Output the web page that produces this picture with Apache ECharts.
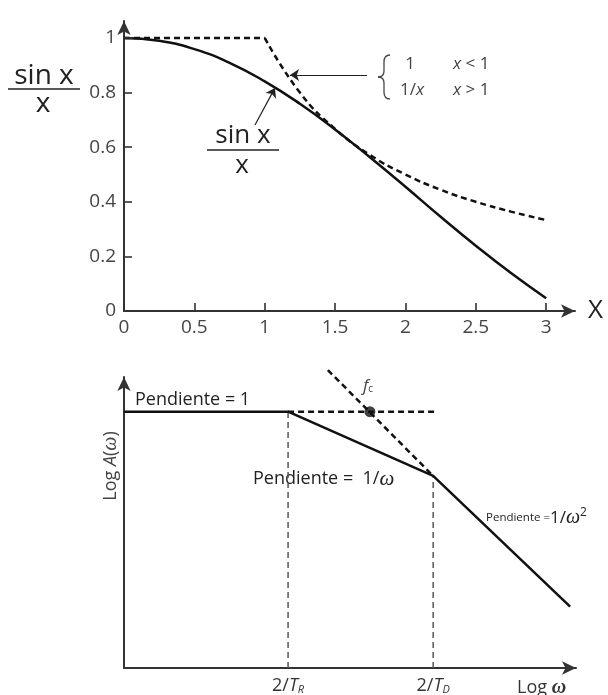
<!DOCTYPE html>
<html>
<head>
<meta charset="utf-8">
<script src="https://cdn.jsdelivr.net/npm/echarts@6/dist/echarts.min.js"></script>
<style>
  html, body { margin: 0; padding: 0; background: #fff; }
  #chart { width: 608px; height: 695px; }
</style>
</head>
<body>
<div id="chart"></div>
<script>
// top panel: sin x / x and its asymptote
var sincX = [0, 0.25, 0.5, 0.75, 1, 1.25, 1.5, 1.75, 2, 2.25, 2.5, 2.75, 3];
var sincY = [1.000, 0.990, 0.959, 0.909, 0.841, 0.759, 0.665, 0.562, 0.455, 0.345, 0.239, 0.139, 0.047];
var flatX = [0, 1];
var flatY = [1, 1];
var invX = [1, 1.25, 1.5, 1.75, 2, 2.25, 2.5, 2.75, 3];
var invY = [1, 0.800, 0.667, 0.571, 0.500, 0.444, 0.400, 0.364, 0.333];
var topXTicks = [0, 0.5, 1, 1.5, 2, 2.5, 3];
var topYTicks = [0, 0.2, 0.4, 0.6, 0.8, 1];

// bottom panel: log-log asymptotes (arbitrary units)
var asymX = [0, 3.63, 6.84, 9.87];
var asymY = [8.81, 8.81, 6.6, 2.11];
var levelX = [3.63, 6.92];
var levelY = [8.81, 8.81];
var cutX = [4.51, 6.84];
var cutY = [10.24, 6.6];
var fcPoint = [5.44, 8.81];
var breakX = [3.63, 6.84];
var breakY = [8.81, 6.6];
var breakLabels = ['2/{i|T}{s|R}', '2/{i|T}{s|D}'];

function zip(xs, ys) {
    return xs.map(function (x, i) { return [x, ys[i]]; });
}

var dom = document.getElementById('chart');
var myChart = echarts.init(dom);

var axisColor = '#333';
var font = 'Open Sans';
var serif = 'Liberation Serif';
var arrow = { show: true, symbol: ['none', 'arrow'], symbolSize: [10, 14], lineStyle: { color: axisColor, width: 2 } };

// top grid: x 0..3.205 over 451px, y 0..1.062 over 290px -> 8px inward ticks
var tickDX = 8 * 3.205 / 451;
var tickDY = 8 * 1.062 / 290;
var tickLines = []
    .concat(topXTicks.slice(1).map(function (v) { return [{ coord: [v, 0] }, { coord: [v, tickDY] }]; }))
    .concat(topYTicks.slice(1).map(function (v) { return [{ coord: [0, v] }, { coord: [tickDX, v] }]; }));

var series = [
    {
        type: 'line', xAxisIndex: 0, yAxisIndex: 0,
        data: zip(sincX, sincY), smooth: true, showSymbol: false,
        lineStyle: { color: '#111', width: 2.5 },
        markLine: {
            silent: true, symbol: ['none', 'arrow'], symbolSize: 9,
            label: { show: false },
            lineStyle: { color: '#222', width: 1.2, type: 'solid' },
            data: [
                [{ coord: [0.931, 0.681] }, { coord: [1.073, 0.817] }],
                [{ coord: [1.727, 0.864] }, { coord: [1.18, 0.864] }]
            ]
        }
    },
    {
        type: 'line', xAxisIndex: 0, yAxisIndex: 0,
        data: zip(flatX, flatY), showSymbol: false,
        lineStyle: { color: '#111', width: 2.5, type: [6, 4] },
        markLine: {
            silent: true, symbol: ['none', 'none'],
            label: { show: false },
            lineStyle: { color: axisColor, width: 1.6, type: 'solid' },
            data: tickLines
        }
    },
    {
        type: 'line', xAxisIndex: 0, yAxisIndex: 0,
        data: zip(invX, invY), smooth: true, showSymbol: false,
        lineStyle: { color: '#111', width: 2.5, type: [6, 4] }
    },
    {
        type: 'line', xAxisIndex: 1, yAxisIndex: 1,
        data: zip(asymX, asymY), showSymbol: false,
        lineStyle: { color: '#111', width: 2.5 }
    },
    {
        type: 'line', xAxisIndex: 1, yAxisIndex: 1,
        data: zip(levelX, levelY), showSymbol: false,
        lineStyle: { color: '#111', width: 2.5, type: [6, 4] }
    },
    {
        type: 'line', xAxisIndex: 1, yAxisIndex: 1, clip: false,
        data: zip(cutX, cutY), showSymbol: false,
        lineStyle: { color: '#111', width: 2.5, type: [6, 4] }
    },
    {
        type: 'scatter', xAxisIndex: 1, yAxisIndex: 1,
        data: [fcPoint], symbolSize: 11,
        itemStyle: { color: '#111' }
    }
];

breakX.forEach(function (bx, i) {
    series.push({
        type: 'line', xAxisIndex: 1, yAxisIndex: 1,
        data: [[bx, 0], [bx, breakY[i]]], showSymbol: false, z: 1,
        lineStyle: { color: '#555', width: 1.5, type: [6, 4] }
    });
});

var txt = { fill: '#222', fontFamily: font };
var braceStyle = { stroke: '#444', lineWidth: 1.3, fill: null };
var it17 = { fontStyle: 'italic', fontSize: 17, fontFamily: font, fill: '#444' };

option = {
    animation: false,
    backgroundColor: '#fff',
    grid: [
        { left: 124, top: 21, width: 451, height: 290 },
        { left: 124, top: 377, width: 452, height: 294 }
    ],
    xAxis: [
        {
            type: 'value', gridIndex: 0, min: 0, max: 3.205,
            splitLine: { show: false },
            axisLine: arrow,
            axisTick: { show: false },
            axisLabel: { customValues: topXTicks, color: '#444', fontSize: 19, fontFamily: font, margin: 7 }
        },
        {
            type: 'value', gridIndex: 1, min: 0, max: 10,
            splitLine: { show: false },
            axisLine: arrow,
            axisTick: { show: false },
            axisLabel: {
                customValues: breakX, color: '#333', fontSize: 18, fontFamily: font, margin: 8,
                formatter: function (v) { return breakLabels[breakX.indexOf(v)] || ''; },
                rich: {
                    i: { fontStyle: 'italic', fontSize: 18, fontFamily: font, color: '#333' },
                    s: { fontStyle: 'italic', fontSize: 11, fontFamily: font, color: '#333', padding: [8, 0, 0, 0] }
                }
            }
        }
    ],
    yAxis: [
        {
            type: 'value', gridIndex: 0, min: 0, max: 1.062,
            splitLine: { show: false },
            axisLine: arrow,
            axisTick: { show: false },
            axisLabel: { customValues: topYTicks, color: '#444', fontSize: 19, fontFamily: font, margin: 8 }
        },
        {
            type: 'value', gridIndex: 1, min: 0, max: 10,
            splitLine: { show: false },
            axisLine: arrow,
            axisTick: { show: false },
            axisLabel: { show: false }
        }
    ],
    graphic: [
        // left axis title: sin x / x
        { type: 'text', x: 44, y: 76, style: Object.assign({ text: 'sin x', fontSize: 28, align: 'center', verticalAlign: 'middle' }, txt) },
        { type: 'line', shape: { x1: 8, y1: 89, x2: 80, y2: 89 }, style: { stroke: '#222', lineWidth: 1.5 } },
        { type: 'text', x: 43, y: 104, style: Object.assign({ text: 'x', fontSize: 28, align: 'center', verticalAlign: 'middle' }, txt) },
        // curve label
        { type: 'text', x: 243, y: 136, style: Object.assign({ text: 'sin x', fontSize: 26, align: 'center', verticalAlign: 'middle' }, txt) },
        { type: 'line', shape: { x1: 207, y1: 150, x2: 279, y2: 150 }, style: { stroke: '#222', lineWidth: 1.5 } },
        { type: 'text', x: 242, y: 166, style: Object.assign({ text: 'x', fontSize: 26, align: 'center', verticalAlign: 'middle' }, txt) },
        // piecewise brace
        { type: 'bezierCurve', shape: { x1: 390, y1: 55, cpx1: 384, cpy1: 55, x2: 384, y2: 62 }, style: braceStyle },
        { type: 'line', shape: { x1: 384, y1: 62, x2: 384, y2: 71 }, style: braceStyle },
        { type: 'bezierCurve', shape: { x1: 384, y1: 71, cpx1: 384, cpy1: 77, x2: 378, y2: 77 }, style: braceStyle },
        { type: 'bezierCurve', shape: { x1: 378, y1: 77, cpx1: 384, cpy1: 77, x2: 384, y2: 83 }, style: braceStyle },
        { type: 'line', shape: { x1: 384, y1: 83, x2: 384, y2: 92 }, style: braceStyle },
        { type: 'bezierCurve', shape: { x1: 384, y1: 92, cpx1: 384, cpy1: 99, x2: 390, y2: 99 }, style: braceStyle },
        { type: 'text', x: 410, y: 64, style: { text: '1', fontSize: 17, fontFamily: font, fill: '#444', align: 'center', verticalAlign: 'middle' } },
        { type: 'text', x: 453, y: 64, style: { text: '{i|x} < 1', fontSize: 17, fontFamily: font, fill: '#444', verticalAlign: 'middle', rich: { i: it17 } } },
        { type: 'text', x: 400, y: 90, style: { text: '1/{i|x}', fontSize: 17, fontFamily: font, fill: '#444', verticalAlign: 'middle', rich: { i: it17 } } },
        { type: 'text', x: 453, y: 90, style: { text: '{i|x} > 1', fontSize: 17, fontFamily: font, fill: '#444', verticalAlign: 'middle', rich: { i: it17 } } },
        { type: 'text', x: 588, y: 311, style: { text: 'X', fontSize: 26, fontFamily: font, fill: '#222', verticalAlign: 'middle' } },
        // bottom panel labels
        { type: 'text', x: 135, y: 400, style: Object.assign({ text: 'Pendiente = 1', fontSize: 18, verticalAlign: 'middle' }, txt) },
        { type: 'text', x: 253, y: 479, style: Object.assign({ text: 'Pendiente =  1/{w|ω}', fontSize: 18, verticalAlign: 'middle', rich: { w: { fontStyle: 'italic', fontSize: 21, fontFamily: serif, fill: '#222' } } }, txt) },
        {
            type: 'text', x: 486, y: 518,
            style: {
                text: '{p|Pendiente =}{n|1/}{w|ω}{sup|2}', verticalAlign: 'middle', fill: '#222', fontFamily: font,
                rich: {
                    p: { fontSize: 11.5, fontFamily: font, fill: '#222' },
                    n: { fontSize: 17, fontFamily: font, fill: '#222' },
                    w: { fontStyle: 'italic', fontSize: 20, fontFamily: serif, fill: '#222' },
                    sup: { fontSize: 12, fontFamily: font, fill: '#222', padding: [0, 0, 10, 0] }
                }
            }
        },
        { type: 'text', x: 363, y: 386, style: { text: '{f|f}{c|c}', fill: '#444', fontFamily: font, verticalAlign: 'middle', rich: { f: { fontStyle: 'italic', fontSize: 17, fontFamily: font, fill: '#444' }, c: { fontSize: 10, fontFamily: font, fill: '#444', padding: [6, 0, 0, 0] } } } },
        { type: 'text', x: 111, y: 466, rotation: Math.PI / 2, style: { text: 'Log {i|A}({w|ω})', fill: '#444', fontFamily: font, fontSize: 18, align: 'center', verticalAlign: 'middle', rich: { i: { fontStyle: 'italic', fontSize: 18, fontFamily: font, fill: '#444' }, w: { fontStyle: 'italic', fontSize: 20, fontFamily: serif, fill: '#444' } } } },
        { type: 'text', x: 517, y: 688, style: { text: 'Log {w|ω}', fill: '#333', fontFamily: font, fontSize: 18, verticalAlign: 'middle', rich: { w: { fontStyle: 'italic', fontWeight: 'bold', fontSize: 20, fontFamily: serif, fill: '#333' } } } }
    ],
    series: series
};

if (option && typeof option === 'object') {
    myChart.setOption(option, true);
}
</script>
</body>
</html>
